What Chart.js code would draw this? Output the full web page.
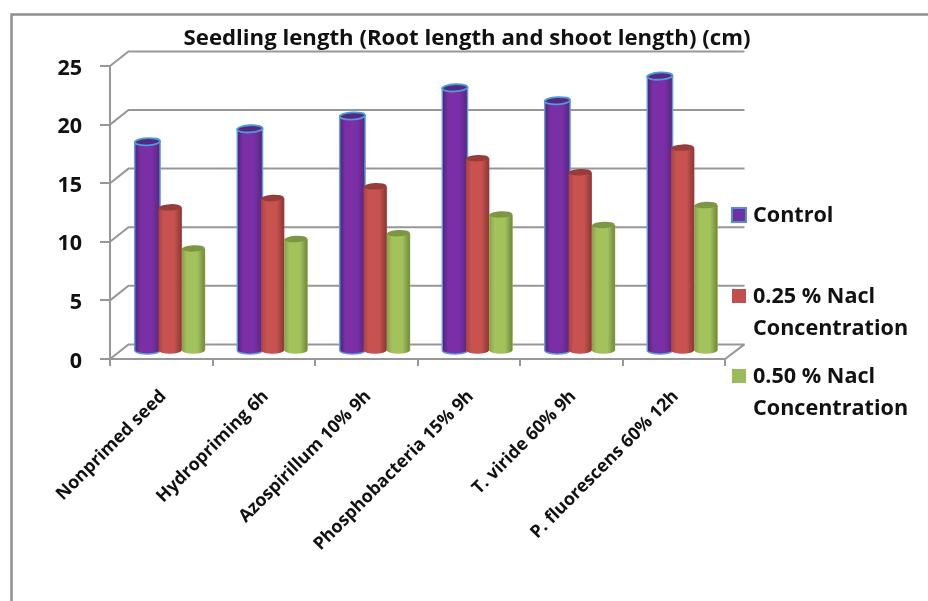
<!DOCTYPE html>
<html>
<head>
<meta charset="utf-8">
<title>Seedling length</title>
<style>
	html, body { margin: 0; padding: 0; background: #fff; }
	canvas { display: block; filter: blur(0.45px); }
</style>
<script src="https://cdn.jsdelivr.net/npm/chart.js@4/dist/chart.umd.min.js"></script>
</head>
<body>
<canvas id="seedChart" width="928" height="601"></canvas>
<script>
var chartTitle = 'Seedling length (Root length and shoot length) (cm)';
var categories = ['Nonprimed seed', 'Hydropriming 6h', 'Azospirillum 10% 9h', 'Phosphobacteria 15% 9h', 'T. viride 60% 9h', 'P. fluorescens 60% 12h'];
var seriesNames = ['Control', '0.25 % Nacl Concentration', '0.50 % Nacl Concentration'];
var legendLines = [['Control'], ['0.25 % Nacl', 'Concentration'], ['0.50 % Nacl', 'Concentration']];
var controlValues = [17.9, 19.0, 20.1, 22.5, 21.4, 23.5];
var nacl025Values = [12.3, 13.1, 14.1, 16.5, 15.3, 17.4];
var nacl050Values = [8.8, 9.6, 10.1, 11.7, 10.8, 12.5];
var yTicks = [0, 5, 10, 15, 20, 25];

var GRAY = '#979797';
var FONT = '"Open Sans", Lato, sans-serif';
// 奥行き (front plane -> back wall)
var WALL_X = 18.5;
var WALL_Y = 14.6;
var BAR_DX = 9;
var BAR_DY = -7.5;

// colours: flat, left edge, middle, right edge, top face
var barColors = [
	['#7030a0', '#4a2577', '#7a2fa6', '#53287f', '#532a80'],
	['#c0504d', '#a9423f', '#c8524f', '#8c3836', '#963c39'],
	['#9bbb59', '#86a34b', '#a3c25c', '#6f8a3c', '#7c9743']
];

// グリッド（奥の壁）
var wallPlugin = {
	id: 'wall',
	beforeDraw: function(chart) {
		var ctx = chart.ctx;
		ctx.save();
		ctx.strokeStyle = '#8e8e8e';
		ctx.lineWidth = 2.5;
		ctx.beginPath();
		ctx.moveTo(11.5, chart.height);
		ctx.lineTo(11.5, 14.5);
		ctx.lineTo(chart.width, 14.5);
		ctx.stroke();
		ctx.restore();
	},
	beforeDatasetsDraw: function(chart) {
		var ctx = chart.ctx;
		var area = chart.chartArea;
		var y = chart.scales.y;
		ctx.save();
		ctx.strokeStyle = GRAY;
		ctx.lineWidth = 2;
		y.ticks.forEach(function(t) {
			var py = y.getPixelForValue(t.value);
			ctx.beginPath();
			ctx.moveTo(area.left, py);
			ctx.lineTo(area.left + WALL_X, py - WALL_Y);
			ctx.lineTo(area.right + WALL_X + 1, py - WALL_Y);
			ctx.stroke();
		});
		var py0 = y.getPixelForValue(0);
		ctx.beginPath();
		ctx.moveTo(area.right, py0);
		ctx.lineTo(area.right + WALL_X + 1, py0 - WALL_Y);
		ctx.stroke();
		ctx.restore();
		// 棒は壁と手前の中間に置く
		ctx.save();
		ctx.translate(BAR_DX, BAR_DY);
	},
	afterDatasetsDraw: function(chart) {
		var ctx = chart.ctx;
		chart.data.datasets.forEach(function(ds, i) {
			chart.getDatasetMeta(i).data.forEach(function(bar) {
				drawCylinder(ctx, bar, barColors[i], i === 0);
			});
		});
		ctx.restore();
	}
};

// 円柱の陰影
function drawCylinder(ctx, bar, c, rim) {
	var half = bar.width / 2;
	var left = bar.x - half - (rim ? 0.5 : 0);
	var right = bar.x + half + (rim ? 1.5 : -0.5);
	var cx = (left + right) / 2;
	var rx = (right - left) / 2;
	var ry = rim ? 3.6 : 3.2;
	var tilt = -0.05;
	var grad = ctx.createLinearGradient(left, 0, right, 0);
	grad.addColorStop(0, c[1]);
	grad.addColorStop(0.22, c[2]);
	grad.addColorStop(0.68, c[2]);
	grad.addColorStop(1, c[3]);

	ctx.save();
	ctx.beginPath();
	ctx.moveTo(left, bar.y);
	ctx.lineTo(left, bar.base);
	ctx.ellipse(cx, bar.base, rx, ry, 0, Math.PI, 0, true);
	ctx.lineTo(right, bar.y);
	ctx.closePath();
	ctx.fillStyle = grad;
	ctx.fill();
	if (rim) {
		ctx.strokeStyle = '#5f9ddb';
		ctx.lineWidth = 1.4;
		ctx.stroke();
	}
	ctx.beginPath();
	ctx.ellipse(cx, bar.y, rx, ry, tilt, 0, Math.PI * 2);
	ctx.fillStyle = c[4];
	ctx.fill();
	if (rim) {
		ctx.strokeStyle = '#4f9ad8';
		ctx.lineWidth = 1.8;
		ctx.stroke();
	}
	ctx.restore();
}

// 凡例
var legendPlugin = {
	id: 'sideLegend',
	afterLayout: function(chart) {
		// タイトルの中心位置
		chart.titleBlock.left = 150;
		chart.titleBlock.right = 784;
	},
	afterDraw: function(chart) {
		var ctx = chart.ctx;
		var rows = [215, 296, 376];
		ctx.save();
		ctx.font = 'bold 21.6px ' + FONT;
		ctx.textBaseline = 'middle';
		ctx.textAlign = 'left';
		legendLines.forEach(function(lines, i) {
			ctx.fillStyle = chart.data.datasets[i].backgroundColor;
			ctx.fillRect(732, rows[i] - 7, 14, 14);
			if (i === 0) {
				ctx.strokeStyle = '#4f8fd3';
				ctx.lineWidth = 2;
				ctx.strokeRect(732, rows[i] - 7, 14, 14);
			}
			ctx.fillStyle = '#111';
			lines.forEach(function(line, n) {
				ctx.fillText(line, 753, rows[i] + 1 + n * 32);
			});
		});
		ctx.restore();
	}
};

function makeDataset(name, values, i) {
	return {
		label: name,
		data: values,
		backgroundColor: barColors[i][0],
		categoryPercentage: 0.683,
		barPercentage: 1
	};
}

var config = {
	type: 'bar',
	data: {
		labels: categories,
		datasets: [
			makeDataset(seriesNames[0], controlValues, 0),
			makeDataset(seriesNames[1], nacl025Values, 1),
			makeDataset(seriesNames[2], nacl050Values, 2)
		]
	},
	plugins: [wallPlugin, legendPlugin],
	options: {
		responsive: false,
		animation: false,
		layout: { padding: { left: 0, right: 203, top: 0, bottom: 0 } },
		plugins: {
			legend: { display: false },
			tooltip: { enabled: false },
			title: {
				display: true,
				text: chartTitle,
				color: '#111',
				font: { family: FONT, size: 22.2, weight: 'bold', lineHeight: 1.2 },
				padding: { top: 25, bottom: 14.4 }
			}
		},
		scales: {
			x: {
				afterFit: function(scale) { scale.height = 242; },
				grid: { drawOnChartArea: false, color: GRAY, lineWidth: 2, tickLength: 7 },
				border: { display: true, color: GRAY, width: 2 },
				ticks: {
					autoSkip: false,
					minRotation: 45,
					maxRotation: 45,
					padding: 20,
					labelOffset: 2,
					color: '#111',
					font: { family: FONT, size: 17.8, weight: 'bold' }
				}
			},
			y: {
				min: 0,
				max: 25,
				afterFit: function(scale) { scale.width = 110; },
				afterBuildTicks: function(scale) {
					scale.ticks = yTicks.map(function(v) { return { value: v }; });
				},
				grid: { drawOnChartArea: false, color: GRAY, lineWidth: 2, tickLength: 10 },
				border: { display: true, color: GRAY, width: 2 },
				ticks: {
					padding: 18,
					labelOffset: 2.5,
					color: '#111',
					font: { family: FONT, size: 21.5, weight: 'bold' }
				}
			}
		}
	}
};

var seedChart = new Chart(document.getElementById('seedChart').getContext('2d'), config);
</script>
</body>
</html>
